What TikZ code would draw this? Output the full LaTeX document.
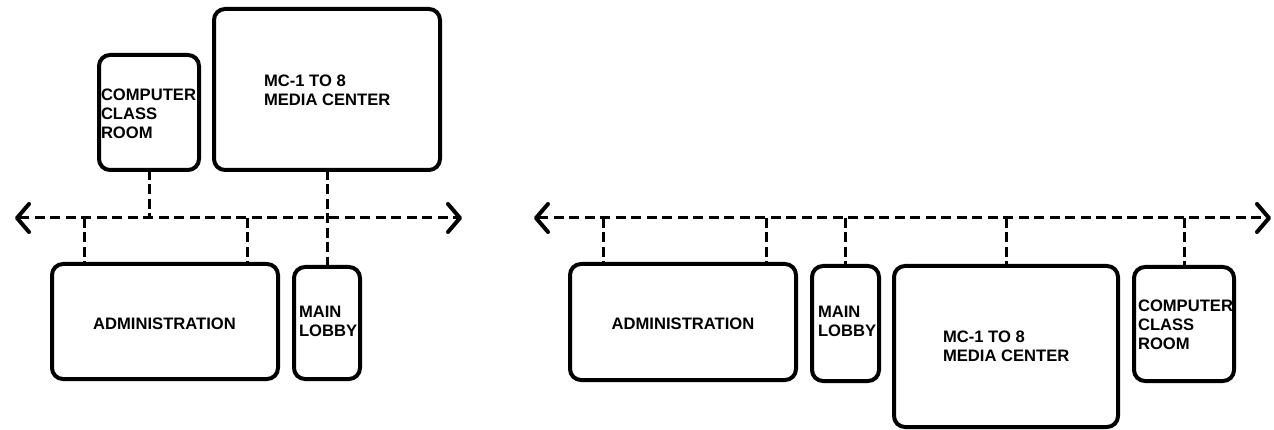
\documentclass[tikz,border=0pt]{standalone}
\usepackage{fontspec}
\setmainfont{Liberation Sans}
\usetikzlibrary{arrows.meta}
\tikzset{
  room/.style={draw, line width=4pt, rounded corners=11pt, inner sep=0pt, outer sep=0pt},
  lbl/.style={inner sep=0pt, outer sep=0pt, align=left, font=\fontsize{16.6}{19}\selectfont\bfseries},
  bus/.style={line width=3pt, dash pattern=on 10pt off 5.5pt,
    {Straight Barb[length=12pt,width=28pt,line width=4pt,round]}-{Straight Barb[length=12pt,width=28pt,line width=4pt,round]}},
  drop/.style={line width=3pt, dash pattern=on 10pt off 4.5pt}
}
\begin{document}
\begin{tikzpicture}[x=1pt,y=-1pt]
\useasboundingbox (0,0) rectangle (1274,430);
% ---------- left diagram ----------
\node[room, minimum width=100pt, minimum height=115pt] (lccr) at (149,112.5) {};
\node[room, minimum width=226pt, minimum height=161pt] (lmc) at (327,89.5) {};
\node[room, minimum width=226pt, minimum height=115pt] (ladm) at (165,321.5) {};
\node[room, minimum width=66pt, minimum height=112pt] (llob) at (327,323) {};
\node[lbl, anchor=north west] (lccrT) at (101,89) {COMPUTER\\CLASS\\ROOM};
\node[lbl, anchor=north west] (lmcT) at (264,75) {MC-1 TO 8\\MEDIA CENTER};
\node[lbl, anchor=base] (ladmT) at (164.5,330) {ADMINISTRATION};
\node[lbl, anchor=north west] (llobT) at (299,306) {MAIN\\LOBBY};
\coordinate (lL) at (15,218);
\coordinate (lR) at (462,218);
\coordinate (lj1) at (149,218);
\coordinate (la1) at (84,218);
\coordinate (la2) at (247,218);
\draw[bus] (lL) -- (lR);
\draw[drop] (lccr.south) -- (lj1);
\draw[drop] (lmc.south) -- (llob.north);
\draw[drop] (la1) -- (la1 |- ladm.north);
\draw[drop] (la2) -- (la2 |- ladm.north);
% ---------- right diagram ----------
\node[room, minimum width=226pt, minimum height=116pt] (radm) at (683,322) {};
\node[room, minimum width=67pt, minimum height=115pt] (rlob) at (845.5,323.5) {};
\node[room, minimum width=224pt, minimum height=161pt] (rmc) at (1006,346.5) {};
\node[room, minimum width=100pt, minimum height=114pt] (rccr) at (1184,324) {};
\node[lbl, anchor=base] (radmT) at (683,329) {ADMINISTRATION};
\node[lbl, anchor=north west] (rlobT) at (818,306) {MAIN\\LOBBY};
\node[lbl, anchor=north west] (rmcT) at (943,331) {MC-1 TO 8\\MEDIA CENTER};
\node[lbl, anchor=north west] (rccrT) at (1138,300) {COMPUTER\\CLASS\\ROOM};
\coordinate (rL) at (534,218);
\coordinate (rR) at (1271,218);
\coordinate (ra1) at (603,218);
\coordinate (ra2) at (766,218);
\coordinate (rb) at (845.5,218);
\coordinate (rc) at (1006,218);
\coordinate (rd) at (1184,218);
\draw[bus] (rL) -- (rR);
\draw[drop] (ra1) -- (ra1 |- radm.north);
\draw[drop] (ra2) -- (ra2 |- radm.north);
\draw[drop] (rb) -- (rlob.north);
\draw[drop] (rc) -- (rmc.north);
\draw[drop] (rd) -- (rccr.north);
\end{tikzpicture}
\end{document}
